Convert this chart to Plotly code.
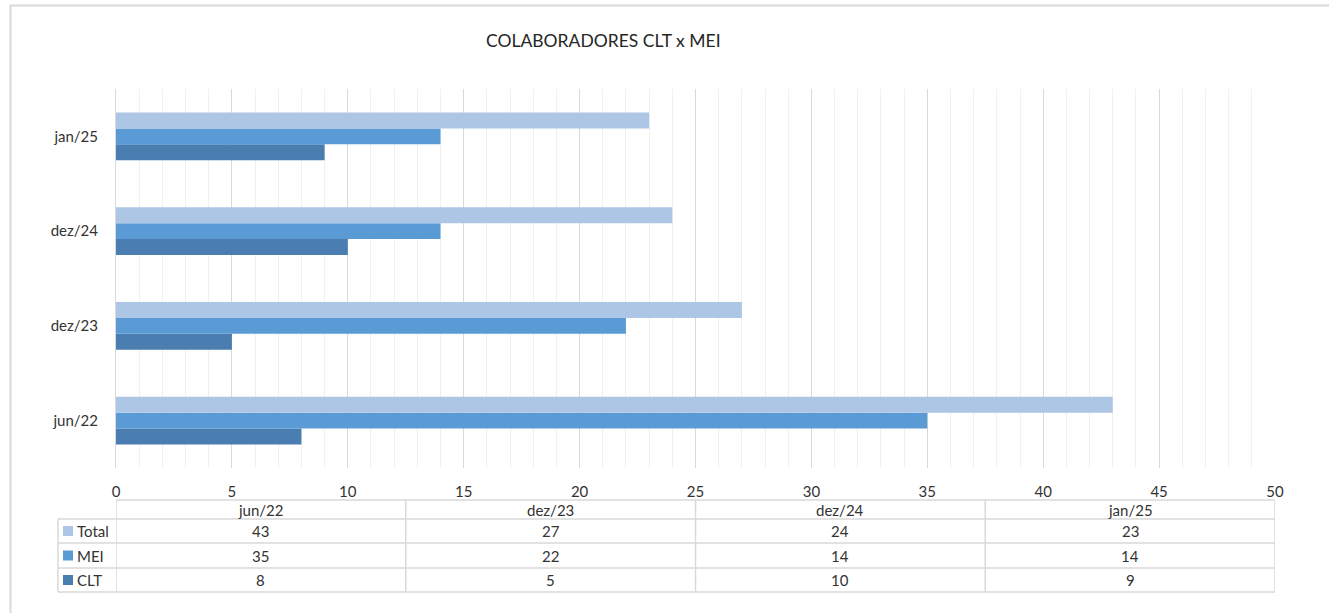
import plotly.graph_objects as go

categories = ["jun/22", "dez/23", "dez/24", "jan/25"]
clt = [8, 5, 10, 9]
mei = [35, 22, 14, 14]
total = [43, 27, 24, 23]

series_names = ["Total", "MEI", "CLT"]
series_values = [total, mei, clt]
series_colors = ["#ADC6E5", "#5B9BD5", "#4A7EB0"]

title = "COLABORADORES CLT x MEI"
x_max = 50
FONT = "Lato, Carlito, Calibri, sans-serif"

W, H = 1329, 613
L, R, T, B = 116, 1275, 89, 468  # plot area in pixels

def px(xp):
    return (xp - L) / (R - L)

def py(yp):
    return (B - yp) / (B - T)

fig = go.Figure()
# bottom-to-top within a group: CLT, MEI, Total
for name, vals, col in zip(series_names[::-1], series_values[::-1], series_colors[::-1]):
    fig.add_trace(go.Bar(y=categories, x=vals, name=name, orientation="h",
                         marker=dict(color=col, line=dict(width=0)), showlegend=False))

shapes = []
annotations = []
line_col = "#D9D9D9"
txt_col = "#333333"

# chart outer border (top and left)
shapes.append(dict(type="line", xref="paper", yref="paper", x0=px(10), x1=px(W + 5),
                   y0=py(5.5), y1=py(5.5), line=dict(color="#D9D9D9", width=2)))
shapes.append(dict(type="line", xref="paper", yref="paper", x0=px(10.5), x1=px(10.5),
                   y0=py(5), y1=py(H + 5), line=dict(color="#D9D9D9", width=2)))

# data table
row_y = [500, 519, 543, 568, 592]  # header top, row boundaries
leg_left = 58
ncat = len(categories)
col_edges = [x_max * i / ncat for i in range(ncat + 1)]

# horizontal lines
shapes.append(dict(type="line", xref="x", yref="paper", x0=0, x1=x_max,
                   y0=py(row_y[0]), y1=py(row_y[0]), line=dict(color=line_col, width=1.5)))
for yy in row_y[1:]:
    shapes.append(dict(type="line", xref="paper", yref="paper", x0=px(leg_left), x1=1,
                       y0=py(yy), y1=py(yy), line=dict(color=line_col, width=1.5)))
# vertical lines
for xe in col_edges:
    shapes.append(dict(type="line", xref="x", yref="paper", x0=xe, x1=xe,
                       y0=py(row_y[0]), y1=py(row_y[-1]), line=dict(color=line_col, width=1.5)))
shapes.append(dict(type="line", xref="paper", yref="paper", x0=px(leg_left), x1=px(leg_left),
                   y0=py(row_y[1]), y1=py(row_y[-1]), line=dict(color=line_col, width=1.5)))

# header text
for i, c in enumerate(categories):
    xc = (col_edges[i] + col_edges[i + 1]) / 2
    annotations.append(dict(x=xc, xref="x", y=py((row_y[0] + row_y[1]) / 2), yref="paper",
                            xanchor="center", yanchor="middle",
                            text=c, showarrow=False, font=dict(family=FONT, size=15, color=txt_col)))
# rows
for r, (name, vals, col) in enumerate(zip(series_names, series_values, series_colors)):
    yc = py((row_y[r + 1] + row_y[r + 2]) / 2)
    shapes.append(dict(type="rect", xref="paper", yref="paper", x0=px(63), x1=px(73),
                       y0=yc - 5 / (B - T), y1=yc + 5 / (B - T), fillcolor=col, line=dict(width=0)))
    annotations.append(dict(x=px(75), xref="paper", y=yc, yref="paper", text=name, showarrow=False,
                            xanchor="left", yanchor="middle",
                            font=dict(family=FONT, size=15, color=txt_col)))
    for i, v in enumerate(vals):
        xc = (col_edges[i] + col_edges[i + 1]) / 2
        annotations.append(dict(x=xc, xref="x", y=yc, yref="paper", text=str(v), showarrow=False,
                                xanchor="center", yanchor="middle",
                                font=dict(family=FONT, size=15, color=txt_col)))

annotations.append(dict(x=px(603), xref="paper", y=py(40), yref="paper", text=title, showarrow=False,
                        xanchor="center", yanchor="middle",
                        font=dict(family=FONT, size=17.5, color="#262626")))

fig.update_layout(
    width=W, height=H,
    margin=dict(l=L, r=W - R, t=T, b=H - B),
    paper_bgcolor="white", plot_bgcolor="white",
    barmode="group", bargap=0.495, bargroupgap=0,
    shapes=shapes, annotations=annotations,
    font=dict(family=FONT, color=txt_col, size=14),
    xaxis=dict(range=[0, x_max], dtick=5, tick0=0, showgrid=True, gridcolor="#D9D9D9", gridwidth=1,
               minor=dict(dtick=1, showgrid=True, gridcolor="#F0F0F0", gridwidth=1),
               zeroline=False, showline=False, ticks="", ticklabelstandoff=13,
               tickfont=dict(family=FONT, size=15, color=txt_col), fixedrange=True),
    yaxis=dict(type="category", categoryorder="array", categoryarray=categories,
               showgrid=False, zeroline=False, showline=True, linecolor="#D9D9D9", linewidth=1,
               ticks="", ticklabelstandoff=14,
               tickfont=dict(family=FONT, size=15, color=txt_col), fixedrange=True),
)

fig.write_html("out.html", config={"displayModeBar": False},
               post_script="document.body.style.margin='0';document.body.style.overflow='hidden';")
